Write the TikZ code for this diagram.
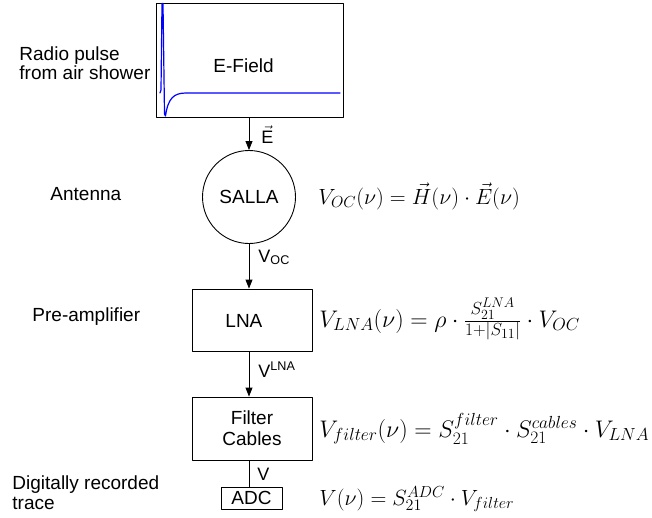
\RequirePackage{fix-cm}
\documentclass[tikz,border=0pt]{standalone}
\usepackage{amsmath}
\usepackage[no-math]{fontspec}
\newfontfamily\arialfont{Liberation Sans}
\usetikzlibrary{arrows.meta}
\DeclareMathSizes{22}{22}{16}{13}
\DeclareMathSizes{24}{24}{17.5}{14}

\begin{document}
\begin{tikzpicture}[x=1pt,y=-1pt,line cap=round,line join=round,line width=0.9pt,
  every node/.style={font=\arialfont\fontsize{19}{21}\selectfont,inner sep=0pt},
  blk/.style={draw,minimum width=120pt,minimum height=62pt},
  arr/.style={-{Triangle[width=7pt,length=9pt]}},
  eqn/.style={anchor=base west,font=\fontsize{22}{26}\selectfont},
  eqnbig/.style={eqn,font=\fontsize{24}{28}\selectfont},
  lbl/.style={anchor=base west,font=\arialfont\fontsize{18}{20}\selectfont}]
\useasboundingbox (0,0) rectangle (652,517);

% Blocks of the signal chain.
\node[draw,minimum width=187pt,minimum height=114pt] (efield) at (249.5,60) {};
\node[draw,circle,minimum size=93pt] (salla) at (249,197) {SALLA};
\node[blk] (lna) at (252,320) {};
\node[blk,minimum height=63pt,align=center] (filter) at (252,428.5) {Filter\\Cables};
\node[draw,minimum width=61pt,minimum height=22pt] (adc) at (251.5,498) {ADC};
\node[anchor=base west] (efieldtxt) at (213,72) {E-Field};
\node[anchor=base west] (lnatxt) at (225,327) {LNA};

% Radio pulse trace.
\draw[blue,line width=1.2pt] (160,93) -- (161,90) -- (162,3.5) -- (163,3.5) -- (164.5,114)
  -- (165.5,116) .. controls (168,98) and (174,93) .. (186,93) -- (340,93);

% Connections.
\draw[arr] (efield.south -| salla) -- (salla.north);
\draw[arr] (salla.south) -- (salla.south |- lna.north);
\draw[arr] (salla.south |- lna.south) -- (salla.south |- filter.north);
\draw (salla.south |- filter.south) -- (salla.south |- adc.north);

\node[lbl] (evec) at (261,143) {$\vec{\text{E}}$};
\node[lbl] (voc)  at (258,262) {V\textsubscript{OC}};
\node[lbl] (vlna) at (258,377) {V\textsuperscript{LNA}};
\node[lbl] (vout) at (257,480) {V};

% Stage names.
\node[anchor=west,align=left,font=\arialfont\fontsize{19}{19}\selectfont] (pulse) at (19,63) {Radio pulse\\from air shower};
\node[anchor=base west] (ant)    at (50,200) {Antenna};
\node[anchor=base west] (preamp) at (32,321) {Pre-amplifier};
\node[anchor=west,align=left,font=\arialfont\fontsize{19}{20}\selectfont] (digit) at (12,493) {Digitally recorded\\trace};

% Transfer functions.
\node[eqn]    (eqoc)   at (318,204) {$V_{OC}(\nu) = \vec{H}(\nu)\cdot\vec{E}(\nu)$};
\node[eqnbig] (eqlna)  at (319,327) {$V_{LNA}(\nu) = \rho\cdot\frac{S_{21}^{LNA}}{1+|S_{11}|}\cdot V_{OC}$};
\node[eqnbig] (eqfilt) at (319,437) {$V_{filter}(\nu) = S_{21}^{filter}\cdot S_{21}^{cables}\cdot V_{LNA}$};
\node[eqn]    (eqadc)  at (319,505) {$V(\nu) = S_{21}^{ADC}\cdot V_{filter}$};
\end{tikzpicture}
\end{document}
